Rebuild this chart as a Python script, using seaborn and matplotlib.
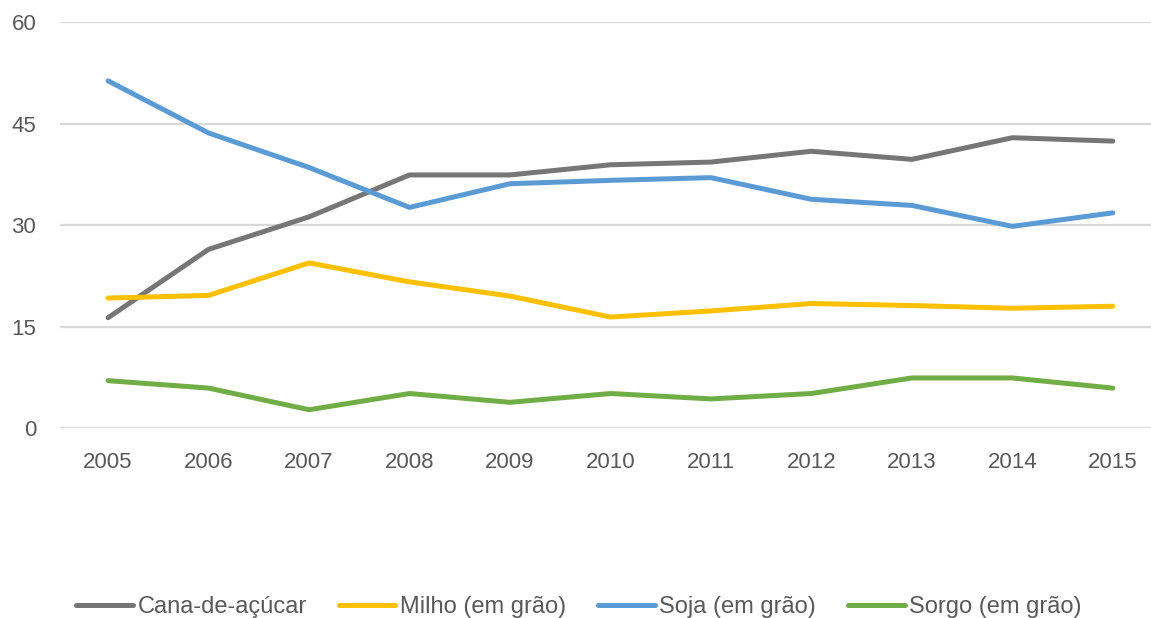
import numpy as np
import pandas as pd
import matplotlib
matplotlib.use("Agg")
import matplotlib.pyplot as plt
import seaborn as sns

years = [2005, 2006, 2007, 2008, 2009, 2010, 2011, 2012, 2013, 2014, 2015]
cana = [16.3, 26.4, 31.2, 37.4, 37.4, 38.9, 39.3, 40.9, 39.7, 42.9, 42.4]
milho = [19.2, 19.6, 24.4, 21.6, 19.5, 16.4, 17.3, 18.4, 18.1, 17.7, 18.0]
soja = [51.3, 43.6, 38.5, 32.6, 36.1, 36.6, 37.0, 33.8, 32.9, 29.8, 31.8]
sorgo = [7.0, 5.9, 2.7, 5.1, 3.8, 5.1, 4.3, 5.1, 7.4, 7.4, 5.9]
series_names = ["Cana-de-açúcar", "Milho (em grão)", "Soja (em grão)", "Sorgo (em grão)"]
y_ticks = [0, 15, 30, 45, 60]

colors = ["#767676", "#FFC000", "#5B9BD5", "#70AD47"]

df = pd.concat([
    pd.DataFrame({"Ano": years, "Valor": vals, "Serie": name})
    for name, vals in zip(series_names, [cana, milho, soja, sorgo])
])

sns.set_theme(style="white")
plt.rcParams['font.family'] = ['Liberation Sans', 'DejaVu Sans']

fig = plt.figure(figsize=(11.51, 6.18), dpi=100)
ax = fig.add_axes([0.052, 0.3074, 0.948, 0.657])

for y in y_ticks:
    ax.axhline(y, color="#d9d9d9", lw=1.6, zorder=0)

sns.lineplot(data=df, x="Ano", y="Valor", hue="Serie", palette=colors,
             hue_order=series_names, linewidth=3.6, ax=ax, legend=True,
             solid_capstyle="round")

ax.set_xlim(2004.52, 2015.38)
ax.set_ylim(0, 60)
ax.set_yticks(y_ticks)
ax.set_xticks(years)
ax.set_xticklabels([str(y) for y in years])
ax.set_xlabel("")
ax.set_ylabel("")
for s in ax.spines.values():
    s.set_visible(False)
ax.tick_params(axis="both", length=0, labelsize=16, labelcolor="#595959")
ax.tick_params(axis="x", pad=17)
ax.tick_params(axis="y", pad=17)

handles, labels = ax.get_legend_handles_labels()
ax.get_legend().remove()
leg = fig.legend(handles, labels, loc="center", bbox_to_anchor=(0.503, 0.018),
                 ncol=4, frameon=False, fontsize=17, handlelength=2.4,
                 handletextpad=0.2, columnspacing=1.35, labelcolor="#595959")
for h in leg.get_lines():
    h.set_linewidth(3.6)

fig.savefig("out.png", dpi=100)
